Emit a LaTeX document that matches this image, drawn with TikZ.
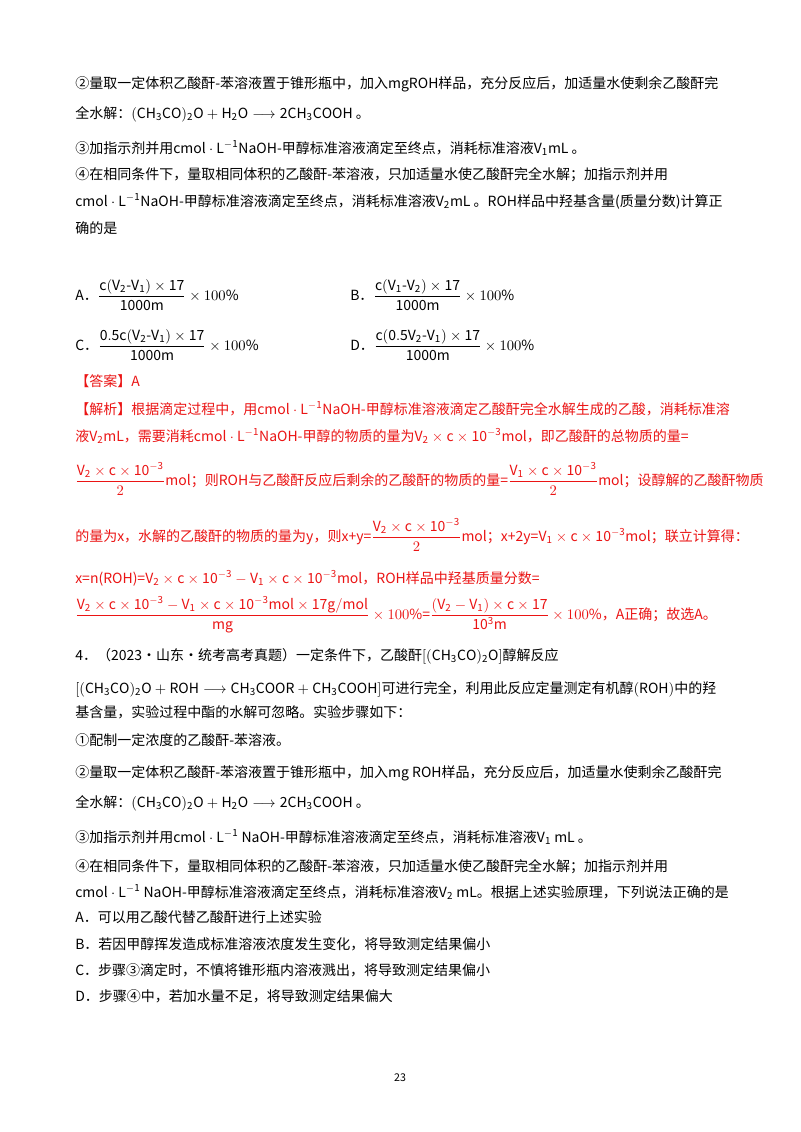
\documentclass[tikz,border=0pt]{standalone}
\usepackage{amsmath}
\usepackage{fontspec}
\setmainfont{Noto Sans CJK SC}
\definecolor{ans}{RGB}{235,20,20}
\newcommand{\rn}{\mathrm}
\begin{document}
\begin{tikzpicture}[x=0.75pt,y=-0.75pt,
 t/.style={anchor=base west,inner sep=0pt,font=\fontsize{10.5}{12}\selectfont},
 r/.style={t,text=ans}]
\useasboundingbox[fill=white] (0,0) rectangle (800,1132);
\node[t] (l1) at (75,88) {②量取一定体积乙酸酐-苯溶液置于锥形瓶中，加入$\rn{mgROH}$样品，充分反应后，加适量水使剩余乙酸酐完};
\node[t] (l2) at (75,118) {全水解：$\rn{(CH_3CO)_2O+H_2O\longrightarrow 2CH_3COOH}$ 。};
\node[t] (l3) at (75,153) {③加指示剂并用$\rn{cmol\cdot L^{-1}NaOH}$-甲醇标准溶液滴定至终点，消耗标准溶液$\rn{V_1mL}$ 。};
\node[t] (l4) at (75,179) {④在相同条件下，量取相同体积的乙酸酐-苯溶液，只加适量水使乙酸酐完全水解；加指示剂并用};
\node[t] (l5) at (75,206) {$\rn{cmol\cdot L^{-1}NaOH}$-甲醇标准溶液滴定至终点，消耗标准溶液$\rn{V_2mL}$ 。ROH样品中羟基含量(质量分数)计算正};
\node[t] (l6) at (75,233) {确的是};
\node[t] (oA) at (75,300) {A．$\dfrac{\rn{c(V_2\text{-}V_1)\times 17}}{\rn{1000m}}\times 100\%$};
\node[t] (oB) at (350,300) {B．$\dfrac{\rn{c(V_1\text{-}V_2)\times 17}}{\rn{1000m}}\times 100\%$};
\node[t] (oC) at (75,350) {C．$\dfrac{\rn{0.5c(V_2\text{-}V_1)\times 17}}{\rn{1000m}}\times 100\%$};
\node[t] (oD) at (350,350) {D．$\dfrac{\rn{c(0.5V_2\text{-}V_1)\times 17}}{\rn{1000m}}\times 100\%$};
\node[r] (ans) at (75,386) {【答案】A};
\node[r] (j1) at (75,414) {【解析】根据滴定过程中，用$\rn{cmol\cdot L^{-1}NaOH}$-甲醇标准溶液滴定乙酸酐完全水解生成的乙酸，消耗标准溶};
\node[r] (j2) at (75,441) {液$\rn{V_2mL}$，需要消耗$\rn{cmol\cdot L^{-1}NaOH}$-甲醇的物质的量为$\rn{V_2\times c\times 10^{-3}mol}$，即乙酸酐的总物质的量=};
\node[r] (j3) at (75,485) {$\dfrac{\rn{V_2\times c\times 10^{-3}}}{2}\rn{mol}$；则ROH与乙酸酐反应后剩余的乙酸酐的物质的量=$\dfrac{\rn{V_1\times c\times 10^{-3}}}{2}\rn{mol}$；设醇解的乙酸酐物质};
\node[r] (j4) at (75,541) {的量为x，水解的乙酸酐的物质的量为y，则x+y=$\dfrac{\rn{V_2\times c\times 10^{-3}}}{2}\rn{mol}$；x+2y=$\rn{V_1\times c\times 10^{-3}mol}$；联立计算得：};
\node[r] (j5) at (75,583) {x=n(ROH)=$\rn{V_2\times c\times 10^{-3}-V_1\times c\times 10^{-3}mol}$，ROH样品中羟基质量分数=};
\node[r] (j6) at (75,619) {$\dfrac{\rn{V_2\times c\times 10^{-3}-V_1\times c\times 10^{-3}mol\times 17g/mol}}{\rn{mg}}\times 100\%$=$\dfrac{\rn{(V_2-V_1)\times c\times 17}}{\rn{10^3m}}\times 100\%$，A正确；故选A。};
\node[t] (q1) at (75,660) {4．（2023·山东·统考高考真题）一定条件下，乙酸酐$\left[\rn{(CH_3CO)_2O}\right]$醇解反应};
\node[t] (q2) at (75,693) {$\left[\rn{(CH_3CO)_2O+ROH\longrightarrow CH_3COOR+CH_3COOH}\right]$可进行完全，利用此反应定量测定有机醇$\left(\rn{ROH}\right)$中的羟};
\node[t] (q3) at (75,717) {基含量，实验过程中酯的水解可忽略。实验步骤如下：};
\node[t] (q4) at (75,745) {①配制一定浓度的乙酸酐-苯溶液。};
\node[t] (q5) at (75,777) {②量取一定体积乙酸酐-苯溶液置于锥形瓶中，加入$\rn{mg\ ROH}$样品，充分反应后，加适量水使剩余乙酸酐完};
\node[t] (q6) at (75,807) {全水解：$\rn{(CH_3CO)_2O+H_2O\longrightarrow 2CH_3COOH}$ 。};
\node[t] (q7) at (75,842) {③加指示剂并用$\rn{cmol\cdot L^{-1}\ NaOH}$-甲醇标准溶液滴定至终点，消耗标准溶液$\rn{V_1\ mL}$ 。};
\node[t] (q8) at (75,871) {④在相同条件下，量取相同体积的乙酸酐-苯溶液，只加适量水使乙酸酐完全水解；加指示剂并用};
\node[t] (q9) at (75,897) {$\rn{cmol\cdot L^{-1}\ NaOH}$-甲醇标准溶液滴定至终点，消耗标准溶液$\rn{V_2\ mL}$。根据上述实验原理，下列说法正确的是};
\node[t] (qa) at (75,922) {A．可以用乙酸代替乙酸酐进行上述实验};
\node[t] (qb) at (75,949) {B．若因甲醇挥发造成标准溶液浓度发生变化，将导致测定结果偏小};
\node[t] (qc) at (75,975) {C．步骤③滴定时，不慎将锥形瓶内溶液溅出，将导致测定结果偏小};
\node[t] (qd) at (75,1001) {D．步骤④中，若加水量不足，将导致测定结果偏大};
\node[anchor=base,inner sep=0pt,font=\fontsize{8}{9}\selectfont] (pg) at (400,1081) {23};
\end{tikzpicture}
\end{document}
